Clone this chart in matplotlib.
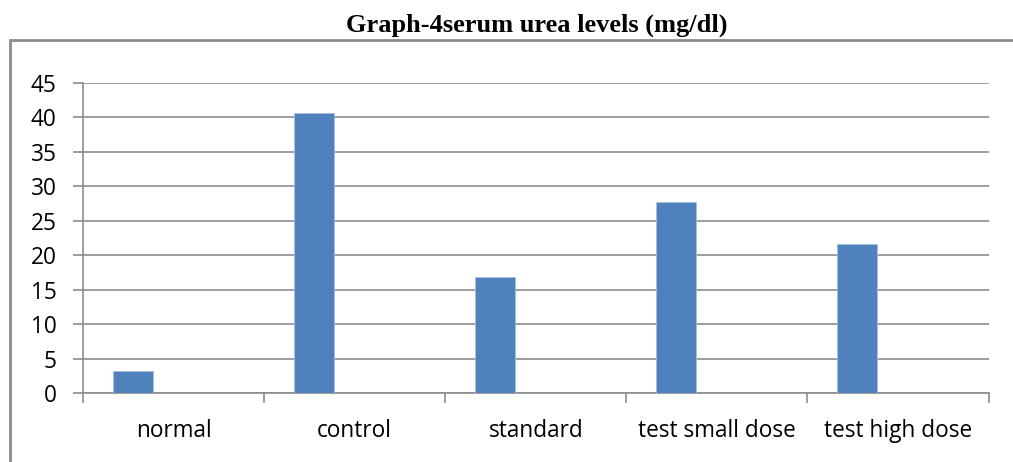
import matplotlib.pyplot as plt
from matplotlib.patches import Rectangle

# datos
grupos = ['normal', 'control', 'standard', 'test small dose', 'test high dose']
urea = [3.2, 40.6, 16.8, 27.7, 21.6]
yticks = [0, 5, 10, 15, 20, 25, 30, 35, 40, 45]

W, H = 1013, 462
fig = plt.figure(figsize=(W/100, H/100), dpi=100)
ax = fig.add_axes([83/W, 1-393.3/H, (988.5-83)/W, (393.3-82.7)/H])

gris = '#8c8c8c'
azul = '#4f81bd'
fuente = 'Open Sans'
tam = 16.3

# barras desplazadas a la izquierda dentro de cada categoria (estilo excel)
pos = [i + 0.166 for i in range(len(grupos))]
ax.bar(pos, urea, width=0.221, align='edge', color=azul, edgecolor='#a7c0de',
       linewidth=0.6, zorder=3)

ax.set_xlim(0, len(grupos))
ax.set_ylim(0, 45)
ax.set_yticks(yticks)
ax.set_yticklabels([str(v) for v in yticks], fontsize=tam, family=fuente)
ax.yaxis.grid(True, color=gris, linewidth=1.2, zorder=0)

ax.set_xticks(range(len(grupos)+1))
ax.set_xticklabels([])
ax.set_xticks([i + 0.5 for i in range(len(grupos))], minor=True)
ax.set_xticklabels(grupos, minor=True, fontsize=tam, family=fuente)
ax.tick_params(axis='x', which='major', length=7, color=gris, width=1.2, direction='out')
ax.tick_params(axis='x', which='minor', length=0, pad=18.5)
ax.tick_params(axis='y', length=7, color=gris, width=1.2, pad=12)

for s in ['top', 'right']:
    ax.spines[s].set_visible(False)
for s in ['left', 'bottom']:
    ax.spines[s].set_color(gris)
    ax.spines[s].set_linewidth(1.2)

# marco exterior
fig.patches.append(Rectangle((10/W, -0.1), 1.2, 1.1 - 40/H, transform=fig.transFigure,
                             fill=False, edgecolor=gris, linewidth=2))

fig.text(537/W, 1-32/H, 'Graph-4serum urea levels (mg/dl)', ha='center', va='baseline',
         fontsize=19, fontweight='bold', family='Liberation Serif')

fig.savefig('out.png', dpi=100)
